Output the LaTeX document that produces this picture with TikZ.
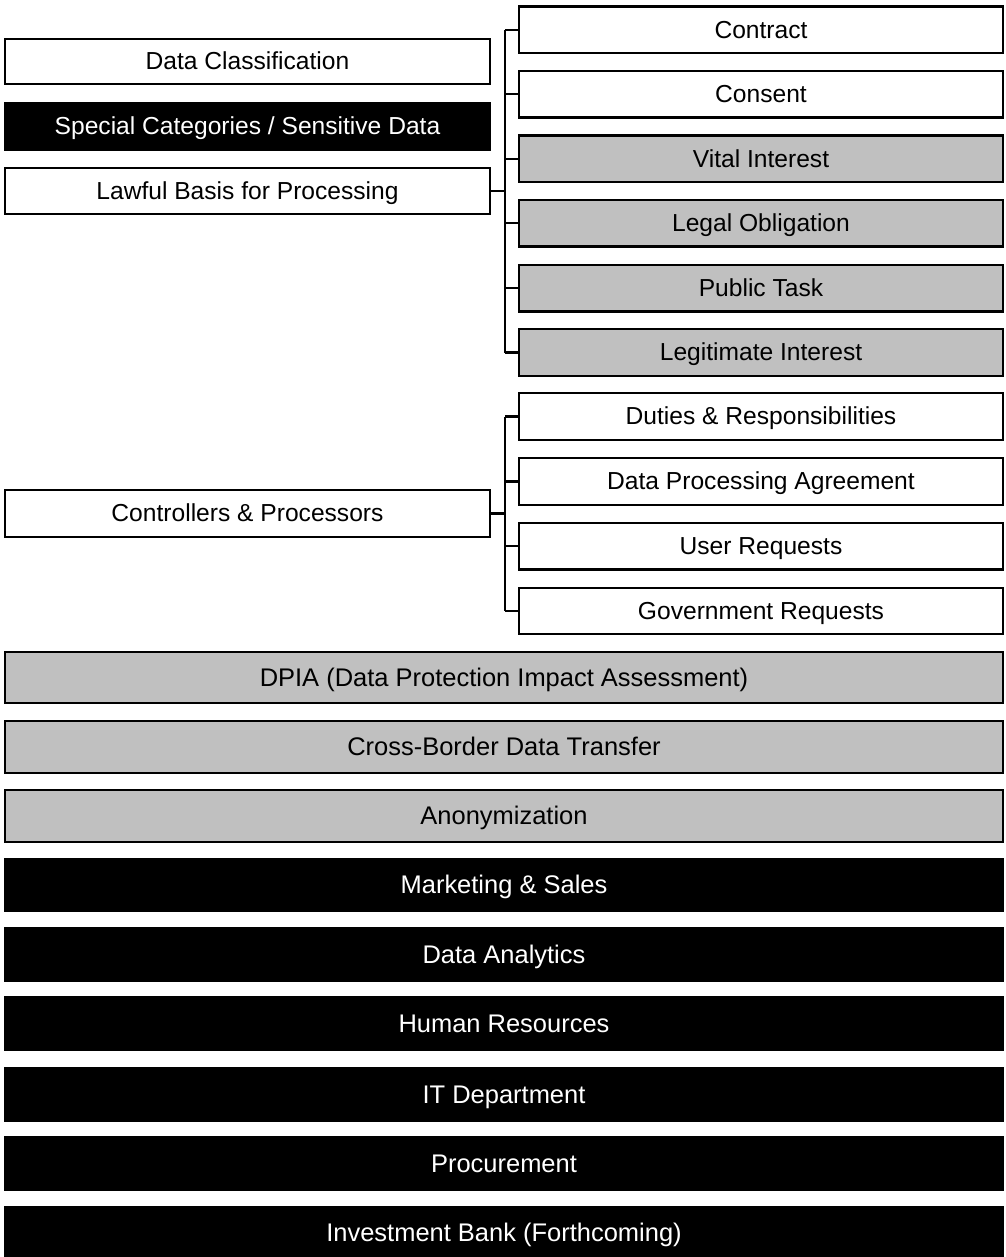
\documentclass[tikz,border=0pt]{standalone}
\usepackage{fontspec}
\setmainfont{Liberation Sans}
\begin{document}
\begin{tikzpicture}[x=0.02cm, y=-0.02cm,
  every node/.style={inner sep=0pt, outer sep=0pt, align=center,
    text height=10pt, text depth=0.5pt,
    font=\fontsize{14}{16}\selectfont},
  plainbox/.style={draw=black, line width=1.2pt, fill=white, text=black},
  greybox/.style={draw=black, line width=1.2pt, fill={rgb,255:red,192;green,192;blue,192}, text=black},
  darkbox/.style={draw=black, line width=1.2pt, fill=black, text=white},
  widefont/.style={font=\fontsize{14.5}{17}\selectfont, text height=10.4pt},
  conn/.style={draw=black, line width=1.2pt}]

% box from pixel corners (x1,y1)-(x2,y2)
\newcommand\pbox[7]{%
  \node[#2, minimum width={(#5-#3)*0.02cm}, minimum height={(#6-#4)*0.02cm}]
    (#1) at ({(#3+#5)/2},{(#4+#6)/2}) {#7};}

\useasboundingbox (0,0) rectangle (1005,1257);
\fill[white] (0,0) rectangle (1005,1257);

% left column
\pbox{dataclass}{plainbox}{5}{39}{490}{84}{Data Classification}
\pbox{special}{darkbox}{5}{103}{490}{150}{Special Categories / Sensitive Data}
\pbox{lawful}{plainbox}{5}{168}{490}{214}{Lawful Basis for Processing}
\pbox{ctrl}{plainbox}{5}{490}{490}{537}{Controllers \& Processors}

% lawful bases
\pbox{contract}{plainbox}{519}{6.5}{1003}{53}{Contract}
\pbox{consent}{plainbox}{519}{71}{1003}{117.5}{Consent}
\pbox{vital}{greybox}{519}{135.5}{1003}{182}{Vital Interest}
\pbox{legal}{greybox}{519}{200}{1003}{246.5}{Legal Obligation}
\pbox{public}{greybox}{519}{265}{1003}{311.5}{Public Task}
\pbox{legit}{greybox}{519}{329}{1003}{376}{Legitimate Interest}

% controller / processor topics
\pbox{duties}{plainbox}{519}{393}{1003}{440}{Duties \& Responsibilities}
\pbox{dpa}{plainbox}{519}{458}{1003}{505}{Data Processing Agreement}
\pbox{userreq}{plainbox}{519}{523}{1003}{569.5}{User Requests}
\pbox{govreq}{plainbox}{519}{588}{1003}{634}{Government Requests}

% full-width rows
\pbox{dpia}{greybox,widefont}{5}{652}{1003}{703}{DPIA (Data Protection Impact Assessment)}
\pbox{xborder}{greybox,widefont}{5}{721}{1003}{773}{Cross-Border Data Transfer}
\pbox{anon}{greybox,widefont}{5}{790}{1003}{842}{Anonymization}
\pbox{marketing}{darkbox,widefont}{5}{859}{1003}{911}{Marketing \& Sales}
\pbox{analytics}{darkbox,widefont}{5}{928}{1003}{981}{Data Analytics}
\pbox{hr}{darkbox,widefont}{5}{997}{1003}{1050}{Human Resources}
\pbox{itdept}{darkbox,widefont}{5}{1068}{1003}{1121}{IT Department}
\pbox{procure}{darkbox,widefont}{5}{1137}{1003}{1190}{Procurement}
\pbox{invbank}{darkbox,widefont}{5}{1207}{1003}{1258}{Investment Bank (Forthcoming)}

% bracket trunks
\coordinate (trunk) at (505,0);

\draw[conn] (lawful.east) -- (lawful.east -| trunk);
\draw[conn] (contract.west -| trunk) -- (legit.west -| trunk);
\foreach \c in {contract,consent,vital,legal,public,legit}
  \draw[conn] (\c.west -| trunk) -- (\c.west);

\draw[conn] (ctrl.east) -- (ctrl.east -| trunk);
\draw[conn] (duties.west -| trunk) -- (govreq.west -| trunk);
\foreach \c in {duties,dpa,userreq,govreq}
  \draw[conn] (\c.west -| trunk) -- (\c.west);

\end{tikzpicture}
\end{document}
